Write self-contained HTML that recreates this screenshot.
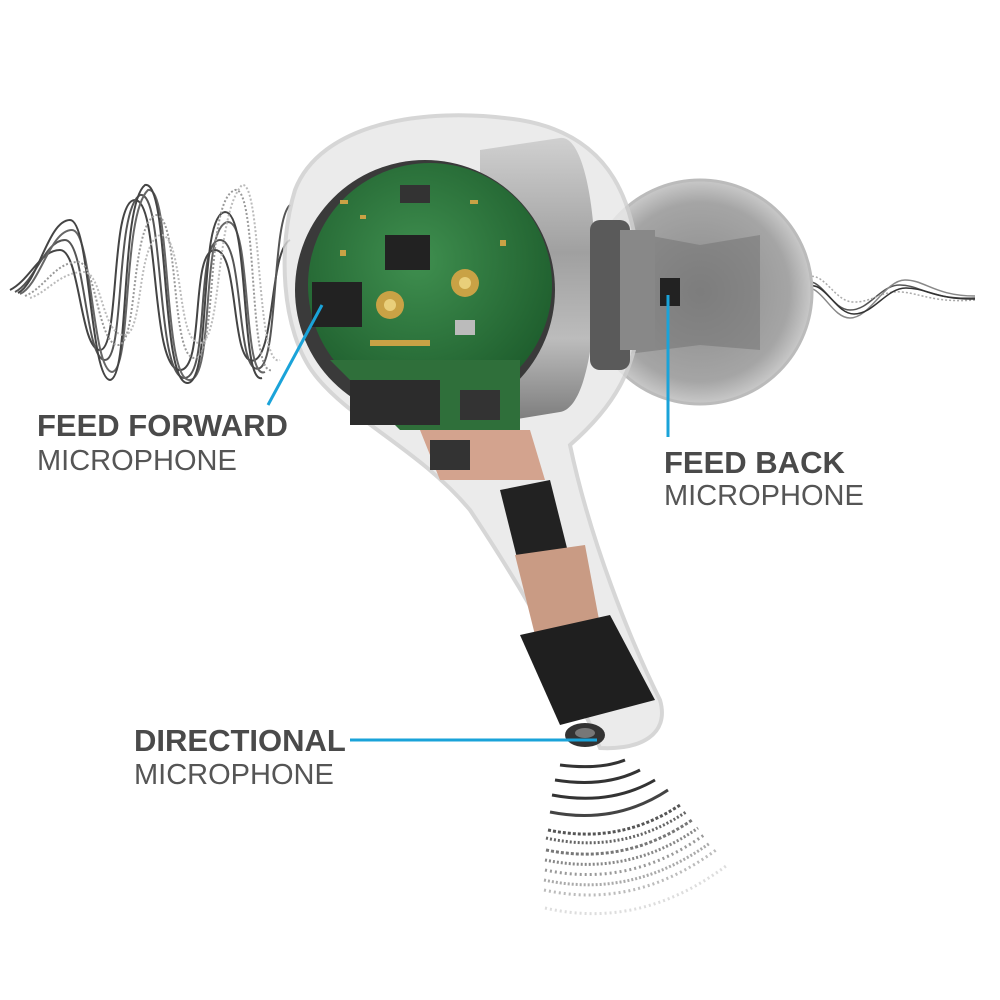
<!DOCTYPE html>
<html><head><meta charset="utf-8"><style>
html,body{margin:0;padding:0;background:#fff;}
svg{display:block;}
text{font-family:"Liberation Sans",Arial,sans-serif;fill:#4a4a4a;}
.b{font-weight:bold;font-size:31px;}
.l{font-size:29px;fill:#555;}
</style></head><body>
<svg width="1000" height="1000" viewBox="0 0 1000 1000" xmlns="http://www.w3.org/2000/svg">
<defs>
<linearGradient id="cyl" x1="0" y1="0" x2="0" y2="1">
<stop offset="0" stop-color="#d0d0d0"/><stop offset="0.4" stop-color="#a0a0a0"/><stop offset="0.7" stop-color="#bcbcbc"/><stop offset="1" stop-color="#7a7a7a"/></linearGradient>
<radialGradient id="tip" cx="0.5" cy="0.5" r="0.5"><stop offset="0" stop-color="#8a8a8a"/><stop offset="0.8" stop-color="#a5a5a5"/><stop offset="1" stop-color="#c9c9c9"/></radialGradient>
<radialGradient id="pcb" cx="0.45" cy="0.4" r="0.6"><stop offset="0" stop-color="#3f8f4f"/><stop offset="1" stop-color="#1f5f2e"/></radialGradient>
</defs>
<!-- left waves -->
<g fill="none" stroke-width="2">
<path d="M10,290 C30,280 40,250 60,250 C80,250 80,350 100,350 C120,350 110,200 135,200 C160,200 150,370 180,370 C205,370 190,250 215,250 C240,250 230,370 255,360 C275,350 270,250 290,240" stroke="#444"/>
<path d="M15,292 C35,282 45,240 65,240 C85,240 85,360 105,360 C125,360 115,210 140,195 C165,190 155,380 185,378 C210,375 195,240 220,240 C245,240 235,380 260,368 C278,358 272,220 290,205" stroke="#555"/>
<path d="M20,294 C40,285 50,230 72,230 C92,230 92,370 112,372 C132,370 122,215 148,190 C172,185 162,382 190,380 C215,378 200,225 228,222 C252,222 242,382 265,372" stroke="#666"/>
<path d="M18,293 C38,283 48,220 70,220 C90,220 90,378 110,380 C130,378 120,205 145,185 C170,180 160,385 188,383 C212,380 198,215 225,212 C250,212 240,385 262,378" stroke="#444"/>
<path d="M25,296 C45,288 55,262 78,262 C96,262 98,345 118,345 C138,345 130,230 155,215 C180,212 170,360 195,358 C218,356 205,200 235,190 C258,185 248,378 272,370" stroke="#999" stroke-dasharray="2,2"/>
<path d="M30,298 C48,292 60,272 84,272 C102,272 102,335 124,335 C144,335 136,245 160,235 C184,232 176,345 200,343 C222,341 215,215 242,185 C262,180 256,370 280,360" stroke="#bbb" stroke-dasharray="2,2"/>
</g>
<!-- right wave -->
<g fill="none" stroke-width="1.5">
<path d="M680,300 C700,290 720,260 740,290 C760,320 780,300 800,285 C820,270 830,310 850,310 C870,310 880,285 900,285 C920,285 930,300 975,298" stroke="#555"/>
<path d="M680,295 C700,285 720,250 740,285 C760,322 780,305 800,290 C820,278 830,318 850,318 C870,318 885,280 905,280 C925,280 935,296 975,296" stroke="#888"/>
<path d="M680,305 C700,298 718,270 742,300 C762,318 782,295 802,280 C822,265 832,300 852,302 C872,303 882,290 902,292 C922,294 935,303 975,300" stroke="#aaa" stroke-dasharray="2,2"/>
<path d="M680,302 C702,292 722,265 744,292 C764,316 784,298 804,288 C824,276 834,314 854,314 C874,314 886,288 906,288 C926,288 938,300 975,299" stroke="#333"/>
</g>
<!-- ear tip -->
<circle cx="700" cy="292" r="112" fill="url(#tip)" stroke="#bbb" stroke-width="3"/>
<path d="M620,230 L700,245 L760,235 L760,350 L700,345 L620,355 Z" fill="#6f6f6f" opacity="0.5"/>
<!-- outer shell -->
<path d="M295,190 C320,125 420,105 520,120 C610,135 640,200 640,300 C640,370 610,410 570,445 C590,540 630,640 660,700 C670,735 640,750 600,748 C580,700 550,630 470,510 C420,450 350,420 315,375 C280,330 278,245 295,190 Z" fill="#e8e8e8" stroke="#cfcfcf" stroke-width="4" opacity="0.85"/>
<!-- cylinder -->
<path d="M480,150 L560,138 C605,132 610,405 560,412 L480,425 Z" fill="url(#cyl)"/>
<rect x="590" y="220" width="40" height="150" rx="10" fill="#5a5a5a"/>
<rect x="620" y="230" width="35" height="120" fill="#888"/>
<rect x="660" y="278" width="20" height="28" fill="#222"/>
<!-- PCB -->
<circle cx="425" cy="290" r="130" fill="#3a3a3a"/>
<circle cx="430" cy="285" r="122" fill="url(#pcb)"/>
<path d="M330,360 L520,360 L520,430 L400,430 Z" fill="#2f6f3a"/>
<rect x="385" y="235" width="45" height="35" fill="#222"/>
<rect x="400" y="185" width="30" height="18" fill="#333"/>
<rect x="312" y="282" width="50" height="45" fill="#222"/>
<rect x="350" y="380" width="90" height="45" fill="#2c2c2c"/>
<rect x="460" y="390" width="40" height="30" fill="#333"/>
<circle cx="390" cy="305" r="14" fill="#c9a245"/><circle cx="390" cy="305" r="6" fill="#e9cf7a"/>
<circle cx="465" cy="283" r="14" fill="#c9a245"/><circle cx="465" cy="283" r="6" fill="#e9cf7a"/>
<rect x="455" y="320" width="20" height="15" fill="#bbb"/>
<rect x="370" y="340" width="60" height="6" fill="#c9a245"/>
<g fill="#c9a245"><rect x="340" y="200" width="8" height="4"/><rect x="360" y="215" width="6" height="4"/><rect x="470" y="200" width="8" height="4"/><rect x="500" y="240" width="6" height="6"/><rect x="340" y="250" width="6" height="6"/></g>
<!-- stem internals -->
<path d="M420,430 L530,430 L545,480 L440,480 Z" fill="#d3a38e"/>
<rect x="430" y="440" width="40" height="30" fill="#333"/>
<path d="M500,490 L550,480 L570,560 L520,570 Z" fill="#222"/>
<path d="M515,555 L585,545 L600,625 L535,635 Z" fill="#c99b84"/>
<path d="M520,635 L610,615 L655,700 L560,725 Z" fill="#1f1f1f"/>
<ellipse cx="585" cy="735" rx="20" ry="12" fill="#333"/>
<ellipse cx="585" cy="733" rx="10" ry="5" fill="#777"/>
<!-- sound arcs -->
<g fill="none" stroke-width="3">
<path d="M560,765 Q600,770 625,760" stroke="#333"/>
<path d="M555,780 Q605,788 640,770" stroke="#333"/>
<path d="M552,795 Q610,806 655,780" stroke="#333"/>
<path d="M550,812 Q615,825 668,790" stroke="#444"/>
<path d="M548,830 Q620,845 680,805" stroke="#555" stroke-dasharray="3,2"/>
<path d="M546,850 Q625,866 692,820" stroke="#777" stroke-dasharray="3,2"/>
<path d="M545,870 Q630,888 704,835" stroke="#999" stroke-dasharray="2,3"/>
<path d="M544,890 Q635,910 716,850" stroke="#bbb" stroke-dasharray="2,3"/>
<path d="M545,908 Q640,930 726,866" stroke="#ddd" stroke-dasharray="2,3"/>
<path d="M546,838 Q622,855 686,812" stroke="#666" stroke-dasharray="2,2"/>
<path d="M545,860 Q628,877 698,828" stroke="#888" stroke-dasharray="2,2"/>
<path d="M544,880 Q632,899 710,843" stroke="#aaa" stroke-dasharray="2,2"/>
</g>
<!-- callout lines -->
<g stroke="#1aa3d9" stroke-width="3" fill="none">
<line x1="268" y1="405" x2="322" y2="305"/>
<line x1="668" y1="437" x2="668" y2="295"/>
<line x1="350" y1="740" x2="597" y2="740"/>
</g>
<!-- labels -->
<text class="b" x="37" y="436">FEED FORWARD</text>
<text class="l" x="37" y="470">MICROPHONE</text>
<text class="b" x="664" y="473">FEED BACK</text>
<text class="l" x="664" y="505">MICROPHONE</text>
<text class="b" x="134" y="751">DIRECTIONAL</text>
<text class="l" x="134" y="784">MICROPHONE</text>
</svg>
</body></html>
